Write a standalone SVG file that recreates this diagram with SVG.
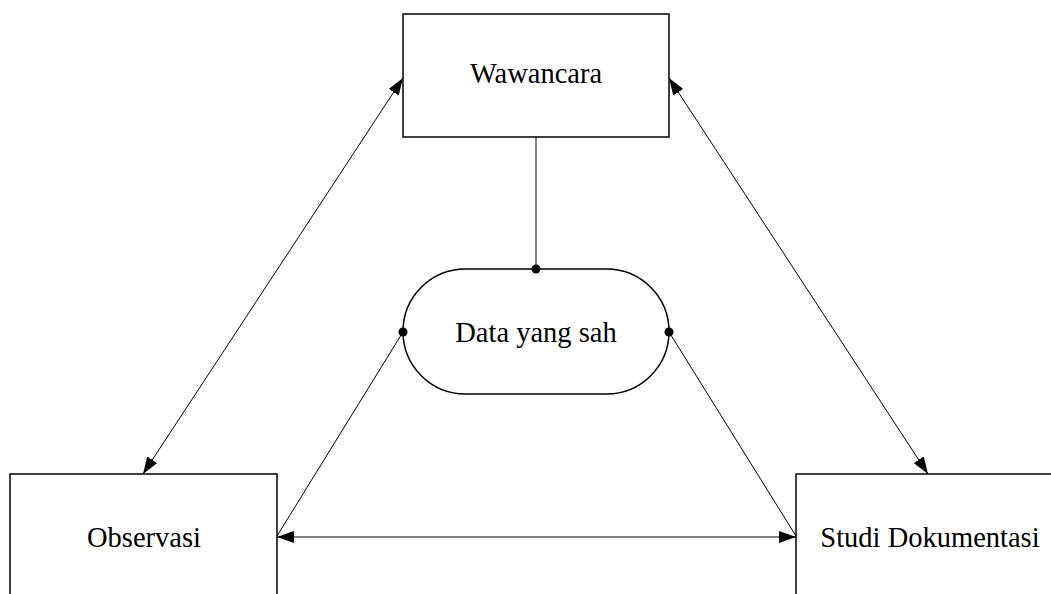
<svg xmlns="http://www.w3.org/2000/svg" width="1051" height="594" viewBox="0 0 1051 594">
<style>
.box{fill:#fff;stroke:#000;stroke-width:1.5}
.ln{fill:none;stroke:#000;stroke-width:1}
.lbl{font-family:"Liberation Serif","Times New Roman",serif;font-size:28.5px;fill:#000;text-anchor:middle}
</style>
<defs>
<marker id="ah" viewBox="0 0 17 12" refX="17" refY="6" markerWidth="17" markerHeight="12" markerUnits="userSpaceOnUse" orient="auto-start-reverse">
<path d="M0,0 L17,6 L0,12 Z" fill="#000"/>
</marker>
</defs>
<rect width="1051" height="594" fill="#fff"/>
<g id="connectors">
<line class="ln" x1="536" y1="137" x2="536" y2="269"/>
<line class="ln" x1="403" y1="332" x2="277" y2="536"/>
<line class="ln" x1="669" y1="332" x2="796" y2="536"/>
<line class="ln" x1="403" y1="78" x2="143" y2="474" marker-start="url(#ah)" marker-end="url(#ah)"/>
<line class="ln" x1="669" y1="78" x2="928" y2="474" marker-start="url(#ah)" marker-end="url(#ah)"/>
<line class="ln" x1="277" y1="537" x2="796" y2="537" marker-start="url(#ah)" marker-end="url(#ah)"/>
</g>
<g id="wawancara">
<rect class="box" x="403" y="14" width="266" height="123"/>
<text class="lbl" x="536" y="83">Wawancara</text>
</g>
<g id="data">
<rect class="box" x="403" y="269" width="266" height="125" rx="62.5" ry="62.5"/>
<text class="lbl" x="536" y="342">Data yang sah</text>
</g>
<g id="observasi">
<rect class="box" x="10" y="474" width="267" height="130"/>
<text class="lbl" x="144" y="547">Observasi</text>
</g>
<g id="studi">
<rect class="box" x="796" y="474" width="270" height="130"/>
<text class="lbl" x="930" y="547">Studi Dokumentasi</text>
</g>
<g id="dots">
<circle cx="536" cy="269" r="4.5"/>
<circle cx="403" cy="332" r="4.5"/>
<circle cx="669" cy="332" r="4.5"/>
</g>
</svg>
